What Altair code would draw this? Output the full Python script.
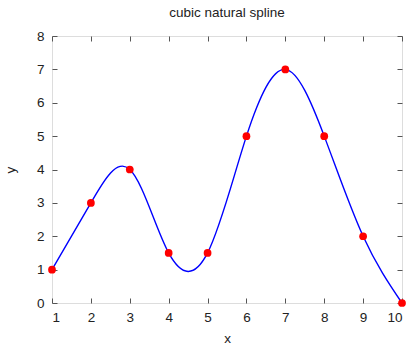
import altair as alt
import pandas as pd

xs = [1, 2, 3, 4, 5, 6, 7, 8, 9, 10]
ys = [1, 3, 4, 1.5, 1.5, 5, 7, 5, 2, 0]
df = pd.DataFrame({"x": xs, "y": ys})

FONT = "Liberation Sans"
AX = "#555555"

xscale = alt.Scale(domain=[1, 10], nice=False, zero=False)
yscale = alt.Scale(domain=[0, 8], nice=False)

common_axis = dict(domain=False, tickColor=AX, tickWidth=1, tickSize=5, offset=-5,
                   grid=False, labelFont=FONT, labelFontSize=13.5, labelColor="#222",
                   titleFont=FONT, titleFontSize=13.5, titleFontWeight="normal", titleColor="#222")

xb = alt.Axis(orient="bottom", values=list(range(1, 11)), labelPadding=7, title="x",
              titlePadding=8, **common_axis)
yl = alt.Axis(orient="left", values=list(range(0, 9)), labelPadding=8, title="y",
              titlePadding=19, **common_axis)
xt = alt.Axis(orient="top", values=list(range(1, 11)), labels=False, title=None,
              domain=False, tickColor=AX, tickSize=5, offset=-5, grid=False)
yr = alt.Axis(orient="right", values=list(range(0, 9)), labels=False, title=None,
              domain=False, tickColor=AX, tickSize=5, offset=-5, grid=False)

line = alt.Chart(df).mark_line(color="#0000ff", strokeWidth=1.4, interpolate="natural").encode(
    x=alt.X("x:Q", scale=xscale, axis=xb),
    y=alt.Y("y:Q", scale=yscale, axis=yl),
)
pts = alt.Chart(df).mark_point(filled=True, color="#ff0000", size=60, opacity=1).encode(
    x=alt.X("x:Q", scale=xscale, axis=xt),
    y=alt.Y("y:Q", scale=yscale, axis=yr),
)

chart = alt.layer(line, pts).resolve_axis(x="independent", y="independent").properties(
    width=350, height=267,
    title=alt.TitleParams("cubic natural spline", font=FONT, fontSize=13.5, fontWeight="normal",
                          color="#222", offset=10),
    autosize=alt.AutoSizeParams(type="none"),
    padding={"left": 52, "top": 36, "right": 18, "bottom": 50},
).configure_view(stroke=AX, strokeWidth=2).configure(background="white")

chart.save("out.html", embed_options={"renderer": "svg", "actions": False})
